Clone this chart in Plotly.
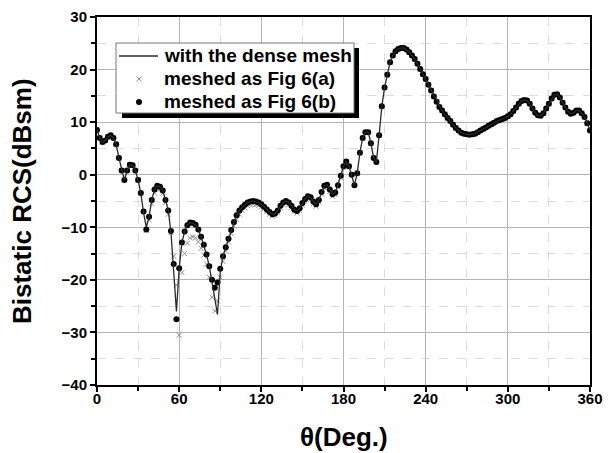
import plotly.graph_objects as go

theta = list(range(0, 361, 2))

rcs_b = [8.5, 7.0, 6.2, 6.5, 7.2, 7.5, 7.0, 5.8, 3.2, 0.8,
         -1.0, 0.8, 1.9, 1.8, 0.8, -1.0, -3.5, -7.0, -10.4, -8.0,
         -4.8, -2.8, -2.1, -2.3, -3.0, -4.8, -6.8, -10.7, -17.0, -27.5,
         -17.8, -12.9, -10.8, -9.6, -9.1, -9.2, -9.5, -10.4, -11.8, -13.3,
         -15.2, -17.4, -20.0, -21.5, -20.5, -17.9, -15.5, -13.8, -12.2, -10.5,
         -9.0, -7.7, -6.8, -6.2, -5.7, -5.3, -5.1, -5.0, -5.1, -5.3,
         -5.6, -6.1, -6.6, -7.1, -7.5, -7.4, -6.8, -5.9, -5.3, -5.0,
         -5.3, -5.9, -6.6, -6.9, -6.4, -5.4, -4.6, -4.1, -4.3, -5.1,
         -5.6, -4.8, -3.3, -2.1, -1.9, -2.8, -3.7, -3.4, -2.0, -0.2,
         1.6, 2.5, 1.6, 0.0, -2.0, 0.3, 4.2, 7.0, 8.1, 8.1,
         6.0, 3.2, 2.4, 7.5, 13.0, 16.6, 19.0, 21.4, 22.7, 23.5,
         23.9, 24.1, 24.1, 23.8, 23.3, 22.7, 22.0, 21.1, 20.1, 19.1,
         18.2, 17.1, 16.0, 14.9, 13.9, 12.9, 12.2, 11.5, 10.8, 10.2,
         9.5, 8.9, 8.4, 8.0, 7.8, 7.7, 7.6, 7.7, 7.8, 8.1,
         8.4, 8.7, 9.0, 9.3, 9.6, 9.9, 10.2, 10.4, 10.6, 10.8,
         11.1, 11.5, 12.1, 12.8, 13.5, 14.0, 14.2, 14.1, 13.5, 12.6,
         11.8, 11.3, 11.2, 11.7, 12.6, 13.5, 14.5, 15.2, 15.3, 14.7,
         13.7, 12.8, 12.0, 11.6, 11.8, 12.2, 12.2, 11.7, 11.0, 9.8,
         8.4]

rcs_a = [8.5, 7.0, 6.2, 6.5, 7.2, 7.5, 7.0, 5.8, 3.2, 0.8,
         -1.0, 0.8, 1.9, 1.8, 0.8, -1.0, -3.5, -7.0, -10.6, -8.6,
         -5.5, -3.5, -2.7, -2.7, -3.5, -5.3, -7.5, -11.0, -15.5, -21.0,
         -30.5, -18.6, -15.0, -13.0, -12.0, -11.8, -12.0, -12.8, -14.0, -15.3,
         -17.0, -19.5, -23.3, -25.9, -24.0, -19.5, -16.5, -14.5, -12.8, -11.2,
         -9.8, -8.5, -7.5, -6.8, -6.3, -5.9, -5.7, -5.6, -5.7, -5.9,
         -6.1, -6.5, -7.0, -7.5, -7.9, -7.8, -7.2, -6.3, -5.7, -5.4,
         -5.7, -6.3, -7.0, -7.3, -6.8, -5.8, -5.0, -4.5, -4.7, -5.5,
         -6.0, -5.2, -3.7, -2.5, -2.3, -3.2, -4.1, -3.8, -2.4, -0.6,
         1.3, 2.5, 1.6, 0.0, -2.0, 0.3, 4.2, 7.0, 8.1, 8.1,
         6.0, 3.2, 2.4, 7.5, 13.0, 16.6, 19.0, 21.4, 22.7, 23.5,
         23.9, 24.1, 24.1, 23.8, 23.3, 22.7, 22.0, 21.1, 20.1, 19.1,
         18.2, 17.1, 16.0, 14.9, 13.9, 12.9, 12.2, 11.5, 10.8, 10.2,
         9.5, 8.9, 8.4, 8.0, 7.8, 7.7, 7.6, 7.7, 7.8, 8.1,
         8.4, 8.7, 9.0, 9.3, 9.6, 9.9, 10.2, 10.4, 10.6, 10.8,
         11.1, 11.5, 12.1, 12.8, 13.5, 14.0, 14.2, 14.1, 13.5, 12.6,
         11.8, 11.3, 11.2, 11.7, 12.6, 13.5, 14.5, 15.2, 15.3, 14.7,
         13.7, 12.8, 12.0, 11.6, 11.8, 12.2, 12.2, 11.7, 11.0, 9.8,
         8.4]

rcs_dense = [8.5, 7.0, 6.2, 6.5, 7.2, 7.5, 7.0, 5.8, 3.2, 0.8,
             -1.0, 0.8, 1.9, 1.8, 0.8, -1.0, -3.5, -7.2, -10.0, -8.0,
             -4.8, -2.8, -2.1, -2.3, -3.0, -4.8, -6.8, -10.9, -18.0, -26.0,
             -17.8, -12.9, -10.8, -9.6, -9.1, -9.2, -9.5, -10.4, -11.8, -13.3,
             -15.2, -17.4, -20.5, -23.5, -26.6, -18.5, -15.5, -13.8, -12.2, -10.5,
             -9.0, -7.7, -6.8, -6.2, -5.7, -5.3, -5.1, -5.0, -5.1, -5.3,
             -5.6, -6.1, -6.6, -7.1, -7.5, -7.4, -6.8, -5.9, -5.3, -5.0,
             -5.3, -5.9, -6.6, -6.9, -6.4, -5.4, -4.6, -4.1, -4.3, -5.1,
             -5.6, -4.8, -3.3, -2.1, -1.9, -2.8, -3.7, -3.4, -2.0, -0.2,
             1.6, 2.5, 1.6, 0.0, -2.0, 0.3, 4.2, 7.0, 8.1, 8.1,
             6.0, 3.2, 2.4, 7.5, 13.0, 16.6, 19.0, 21.4, 22.7, 23.5,
             23.9, 24.1, 24.1, 23.8, 23.3, 22.7, 22.0, 21.1, 20.1, 19.1,
             18.2, 17.1, 16.0, 14.9, 13.9, 12.9, 12.2, 11.5, 10.8, 10.2,
             9.5, 8.9, 8.4, 8.0, 7.8, 7.7, 7.6, 7.7, 7.8, 8.1,
             8.4, 8.7, 9.0, 9.3, 9.6, 9.9, 10.2, 10.4, 10.6, 10.8,
             11.1, 11.5, 12.1, 12.8, 13.5, 14.0, 14.2, 14.1, 13.5, 12.6,
             11.8, 11.3, 11.2, 11.7, 12.6, 13.5, 14.5, 15.2, 15.3, 14.7,
             13.7, 12.8, 12.0, 11.6, 11.8, 12.2, 12.2, 11.7, 11.0, 9.8,
             8.4]

names = ["with the dense mesh", "meshed as Fig 6(a)", "meshed as Fig 6(b)"]
x_ticks = [0, 60, 120, 180, 240, 300, 360]
y_ticks = [-40, -30, -20, -10, 0, 10, 20, 30]

FONT = "Arial, Liberation Sans, sans-serif"
W, H = 609, 453
ML, MR, MT, MB = 97, 19, 17, 68
PW, PH = W - ML - MR, H - MT - MB


def px(x):
    return (x - ML) / PW


def py(y):
    return 1 - (y - MT) / PH


CROSS_COLOR = "#8f8f8f"
LINE_COLOR = "#2a2a2a"

fig = go.Figure()
fig.add_trace(go.Scatter(x=theta, y=rcs_a, mode="markers", name=names[1], showlegend=False,
                         marker=dict(symbol="x-thin", size=5, line=dict(width=1, color=CROSS_COLOR), color=CROSS_COLOR)))
fig.add_trace(go.Scatter(x=theta, y=rcs_b, mode="markers", name=names[2], showlegend=False,
                         marker=dict(symbol="circle", size=6, color="black")))
fig.add_trace(go.Scatter(x=theta, y=rcs_dense, mode="lines", name=names[0], showlegend=False,
                         line=dict(color=LINE_COLOR, width=1.3)))

axis_common = dict(showline=True, linewidth=2, linecolor="black", mirror=True,
                   ticks="outside", ticklen=5, tickwidth=1.5, tickcolor="black",
                   showgrid=True, gridcolor="#b4b4b4", gridwidth=1, zeroline=False,
                   automargin=False,
                   tickfont=dict(family=FONT, size=15, color="black", weight="bold"))

fig.update_xaxes(range=[0, 360], tickvals=x_ticks, **axis_common, ticklabelstandoff=-6,
                 minor=dict(dtick=30, tick0=0, showgrid=True, griddash="dash", gridcolor="#dcdcdc",
                            ticks="outside", ticklen=4, tickcolor="black"))
fig.update_yaxes(range=[-40, 30], tickvals=y_ticks, **axis_common,
                 minor=dict(dtick=5, tick0=0, showgrid=True, griddash="dash", gridcolor="#dcdcdc",
                            ticks="outside", ticklen=4, tickcolor="black"))

# axis titles
fig.add_annotation(text="θ(Deg.)", xref="paper", yref="paper", x=0.5, y=py(437),
                   xanchor="center", yanchor="middle", showarrow=False,
                   font=dict(family=FONT, size=26, color="black", weight="bold"))
fig.add_annotation(text="Bistatic RCS(dBsm)", xref="paper", yref="paper", x=px(22), y=0.5,
                   xanchor="center", yanchor="middle", showarrow=False, textangle=-90,
                   font=dict(family=FONT, size=26, color="black", weight="bold"))

# manual legend: shadow, box, symbols, labels
fig.add_shape(type="rect", xref="paper", yref="paper",
              x0=px(122), x1=px(359), y0=py(118), y1=py(48),
              fillcolor="black", line=dict(width=0), layer="above")
fig.add_shape(type="rect", xref="paper", yref="paper",
              x0=px(116), x1=px(354), y0=py(113), y1=py(43),
              fillcolor="white", line=dict(width=1, color="#777777"), layer="above")
fig.add_shape(type="line", xref="paper", yref="paper",
              x0=px(119), x1=px(158), y0=py(56), y1=py(56),
              line=dict(color=LINE_COLOR, width=1.5), layer="above")
for dx0, dy0, dx1, dy1 in [(-2.5, -2.5, 2.5, 2.5), (-2.5, 2.5, 2.5, -2.5)]:
    fig.add_shape(type="line", xref="paper", yref="paper", xsizemode="pixel", ysizemode="pixel",
                  xanchor=px(139), yanchor=py(79), x0=dx0, x1=dx1, y0=dy0, y1=dy1,
                  line=dict(color=CROSS_COLOR, width=1), layer="above")
fig.add_shape(type="circle", xref="paper", yref="paper", xsizemode="pixel", ysizemode="pixel",
              xanchor=px(139), yanchor=py(102), x0=-3, x1=3, y0=-3, y1=3,
              fillcolor="black", line=dict(width=0), layer="above")
for label, yy in zip(names, [56, 79, 102]):
    fig.add_annotation(text=label, xref="paper", yref="paper", x=px(162), y=py(yy),
                       xanchor="left", yanchor="middle", showarrow=False,
                       font=dict(family=FONT, size=19, color="black", weight="bold"))

fig.update_layout(
    width=W, height=H,
    margin=dict(l=ML, r=MR, t=MT, b=MB),
    plot_bgcolor="white", paper_bgcolor="white",
    font=dict(family=FONT, color="black"),
    showlegend=False,
)

fig.write_html("out.html", config={"displayModeBar": False},
               post_script="document.body.style.margin='0';document.body.style.overflow='hidden';")
